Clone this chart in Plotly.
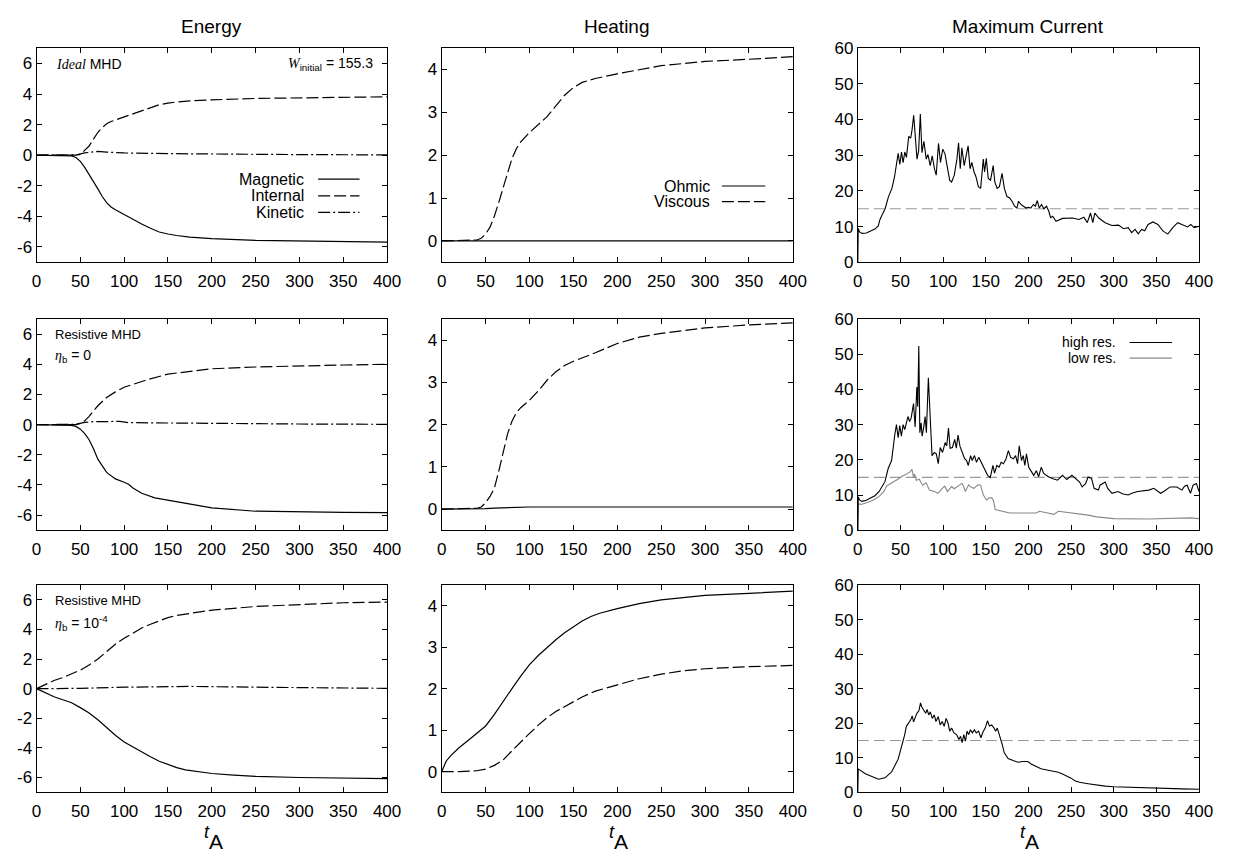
import plotly.graph_objects as go

# ---------------- data ----------------
# Row 1: Ideal MHD
e1_mag_t = [0, 40, 45, 50, 55, 60, 65, 70, 75, 80, 85, 90, 100, 110, 120, 130, 140, 150, 160, 175, 200, 250, 300, 350, 400]
e1_mag_v = [0, -0.05, -0.15, -0.4, -0.8, -1.25, -1.7, -2.2, -2.7, -3.1, -3.38, -3.57, -3.87, -4.2, -4.5, -4.78, -5.02, -5.15, -5.25, -5.35, -5.45, -5.57, -5.62, -5.65, -5.68]
e1_int_t = [0, 45, 50, 55, 60, 65, 70, 75, 80, 85, 90, 100, 110, 120, 130, 140, 150, 160, 175, 200, 250, 300, 350, 400]
e1_int_v = [0, 0.0, 0.05, 0.3, 0.6, 1.05, 1.5, 1.8, 2.05, 2.2, 2.3, 2.52, 2.72, 2.92, 3.12, 3.3, 3.4, 3.48, 3.55, 3.62, 3.71, 3.76, 3.8, 3.82]
e1_kin_t = [0, 45, 55, 65, 70, 80, 100, 150, 200, 250, 300, 350, 400]
e1_kin_v = [0, 0.02, 0.15, 0.24, 0.25, 0.2, 0.15, 0.1, 0.07, 0.05, 0.04, 0.03, 0.02]

h1_ohm_t = [0, 400]
h1_ohm_v = [0, 0]
h1_vis_t = [0, 40, 45, 50, 55, 60, 65, 70, 75, 80, 85, 90, 100, 110, 120, 130, 140, 150, 160, 175, 200, 250, 300, 350, 400]
h1_vis_v = [0, 0.02, 0.06, 0.16, 0.32, 0.58, 0.9, 1.23, 1.6, 1.92, 2.15, 2.31, 2.53, 2.72, 2.9, 3.15, 3.4, 3.58, 3.7, 3.79, 3.9, 4.09, 4.19, 4.24, 4.3]

c1_t = [0, 0.5, 2, 5, 10, 15, 20, 24, 26, 29, 32, 36, 40, 43, 46, 47.3, 49.3, 51.2, 53.1, 55.1, 57, 59.7, 62, 63.6, 65.5, 67.8, 69.4, 71.3,
        73.3, 75.2, 77.5, 80.2, 82.2, 84.9, 87.2, 89.9, 91.9, 94.6, 96.9, 99.6, 102.3, 104.6, 107.7, 110, 113.1, 116.2, 118.1, 120.1,
        122, 124.7, 127, 129.3, 131.6, 133.6, 136.3, 138.6, 141.3, 144, 147.1, 148.6, 150.6, 152.9, 155.6, 158.7, 160.6, 163.3, 166,
        169.1, 171.8, 174.9, 178, 180.7, 183.8, 186.5, 188.4, 191.1, 194.2, 197.3, 200, 202.7, 205.8, 208.1, 210.4, 212.7, 215.4,
        218.1, 221.2, 223.9, 226, 228.5, 232.4, 240, 251.6, 259.3, 265, 269, 272.8, 275.5, 277.8, 282.5, 290, 297.9, 305.6, 311.4,
        317, 321, 325, 328.7, 332.6, 336.4, 340.3, 346, 351.8, 357.6, 363.4, 369.2, 375, 380.7, 386.5, 390.4, 394.2, 400]
c1_v = [0, 9.5, 8.5, 8.1, 8.2, 8.8, 9.3, 10.2, 12, 13.5, 15, 18.4, 20.7, 23.9, 28, 30.5, 27.4, 30.9, 27.9, 30.9, 29.4, 35.3, 34.8, 37.1,
        41.2, 33.9, 28.9, 31.2, 41.5, 30.7, 33.9, 28.9, 30.2, 27.1, 29.8, 26.2, 24.4, 33.3, 28, 31.7, 30.3, 27.1, 23, 22.5, 24.4, 28.9,
        33.5, 26.2, 32.1, 27.1, 29.8, 32.6, 26.2, 28, 25.3, 23.9, 21.2, 20.7, 28.9, 25.3, 29.1, 23.5, 23, 27.1, 22.5, 20.7, 21.2, 24.9,
        20.7, 18.4, 18, 17.1, 15.7, 15.2, 17.1, 16.2, 15.7, 15.2, 15.4, 15.2, 16.2, 15.7, 17.3, 15.2, 16.2, 15, 15.7, 14.3, 12.5, 12.9,
        11.5, 12.3, 12.4, 12, 12.6, 11.1, 13.8, 11.1, 13.8, 12.4, 11.1, 10.3, 10.4, 9.4, 9.7, 8.3, 9.2, 8, 9.2, 8.8, 10.6, 11.3, 10.6,
        8.8, 7.9, 9.7, 11.1, 10.6, 9.9, 10.6, 9.7, 10.1]

# Row 2: Resistive MHD, eta_b = 0
e2_mag_t = [0, 40, 45, 50, 55, 60, 65, 70, 80, 90, 100, 105, 110, 120, 135, 150, 175, 200, 250, 300, 350, 400]
e2_mag_v = [0, -0.05, -0.12, -0.3, -0.6, -1.0, -1.6, -2.29, -3.17, -3.6, -3.82, -3.95, -4.2, -4.55, -4.85, -5.0, -5.3, -5.52, -5.74, -5.8, -5.82, -5.83]
e2_int_t = [0, 45, 50, 55, 60, 65, 70, 80, 90, 100, 125, 150, 175, 200, 250, 300, 350, 400]
e2_int_v = [0, 0.0, 0.08, 0.25, 0.55, 0.9, 1.25, 1.8, 2.17, 2.48, 2.95, 3.35, 3.54, 3.7, 3.82, 3.9, 3.95, 4.0]
e2_kin_t = [0, 45, 55, 65, 80, 95, 105, 150, 200, 250, 300, 350, 400]
e2_kin_v = [0, 0.02, 0.15, 0.2, 0.2, 0.22, 0.13, 0.1, 0.07, 0.05, 0.04, 0.03, 0.02]

h2_ohm_t = [0, 40, 50, 60, 70, 80, 100, 150, 400]
h2_ohm_v = [0, 0.0, 0.01, 0.025, 0.035, 0.045, 0.05, 0.05, 0.05]
h2_vis_t = [0, 40, 45, 50, 55, 60, 65, 70, 75, 80, 85, 90, 100, 110, 120, 130, 140, 150, 175, 200, 225, 250, 300, 350, 400]
h2_vis_v = [0, 0.02, 0.05, 0.15, 0.3, 0.5, 0.9, 1.38, 1.78, 2.08, 2.28, 2.4, 2.58, 2.8, 3.05, 3.25, 3.4, 3.5, 3.7, 3.92, 4.07, 4.16, 4.29, 4.36, 4.41]

c2_hi_t = [0, 0.5, 2, 5, 10, 15, 20, 25, 31.8, 35.7, 39.6, 43.4, 45.3, 47.3, 49.2, 51.1, 53.1, 55, 56.9, 58.8, 60.7, 62.6, 65.3, 67.2,
           69.2, 70.3, 71.5, 72.7, 74.2, 75.4, 77.3, 78.9, 80.4, 82.7, 85, 87, 89.7, 92, 94.3, 96.6, 99.3, 102.4, 104.3, 106.3, 108.2,
           110.9, 113.6, 115.5, 117.5, 119.8, 122.5, 125.2, 127.5, 129.5, 132.2, 134.1, 136.8, 139.1, 141.8, 144.5, 146.8, 149.5, 152.2,
           155.3, 158.4, 160.3, 163, 165.7, 168, 170.7, 173.8, 176.5, 179.2, 182.3, 185, 187.3, 189.2, 191.9, 193.9, 195.8, 197.7, 200.4,
           203.5, 206.2, 209.3, 212, 215.1, 217.8, 220.9, 224, 229, 234, 240, 245, 251, 256, 260, 263, 267, 270, 274, 277, 282, 284, 290,
           293, 298, 305, 311, 317, 322, 328, 335, 341, 347, 355, 360, 366, 374, 380, 383, 386, 390, 393, 397, 400]
c2_hi_v = [0, 9.5, 8.6, 8.2, 8.5, 9.1, 9.8, 11, 13.8, 17.6, 19.8, 27.2, 30, 26.3, 29.7, 26.7, 30, 28.6, 30.5, 32.3, 30.9, 31.9, 36, 29.3,
           40.7, 35.1, 52.3, 27.7, 30.5, 26.7, 29.3, 32.3, 27.7, 43.3, 31.4, 21.2, 22.1, 21.7, 18.9, 23.5, 22.1, 24.9, 24, 29, 23.3, 23.5,
           25.8, 23.3, 27, 23.8, 22.1, 20.3, 19.8, 18.4, 21.2, 19.8, 21.2, 19.3, 20.7, 19.3, 17.9, 16.6, 15.6, 15, 18.4, 16.2, 18.4, 17.9,
           19.3, 18.9, 20.3, 22.6, 20.7, 20.3, 21.2, 18.9, 24, 19.8, 21.2, 18.4, 21.7, 17.9, 16.6, 15.6, 16.9, 15.2, 17.9, 16.2, 15.6, 15.1,
           14.6, 14.2, 15.6, 14.4, 15.6, 14.5, 13.7, 12.3, 13.2, 15.1, 14.7, 11.9, 11.4, 12.8, 13.7, 11.9, 10.5, 11, 10.3, 10, 10.6, 11,
           11.2, 11.4, 11.9, 10.5, 11.2, 12.3, 12.3, 11.4, 12.5, 12.8, 10.5, 12.8, 13.3, 11]
c2_lo_t = [0, 0.5, 5, 10, 15, 20, 25, 30, 34, 38, 43, 47, 51, 57, 61, 63.5, 65.5, 66.5, 68.5, 72, 76, 80, 84, 90, 94, 99, 102, 105, 110,
           113, 117, 122, 124, 126, 130, 133, 136, 141, 144, 147, 151, 154, 157, 159, 161, 166, 172, 178, 193, 209, 213, 223, 230, 235,
           245, 260, 270, 280, 300, 340, 380, 390, 400]
c2_lo_v = [0, 7.5, 7.4, 7.7, 8.2, 8.8, 9.6, 10.8, 12.6, 13.2, 13.8, 14.5, 15.2, 16.1, 16.5, 17.3, 14.9, 16, 14.2, 14.5, 12.8, 13.5, 11.4,
           11, 10.5, 11.9, 12.5, 11, 12.4, 11.8, 12.5, 13.3, 12.5, 11, 12.9, 12.2, 11.9, 12.9, 12.8, 10.1, 8.6, 9.2, 9.2, 8.5, 5.9, 5.6,
           5.2, 4.9, 4.9, 4.9, 5.4, 4.9, 4.5, 5.4, 5.1, 4.7, 4.3, 3.8, 3.3, 3.2, 3.4, 3.5, 3.3]

# Row 3: Resistive MHD, eta_b = 1e-4
e3_mag_t = [0, 10, 20, 30, 40, 50, 60, 70, 80, 90, 100, 110, 120, 130, 140, 150, 160, 170, 180, 200, 225, 250, 300, 350, 400]
e3_mag_v = [0, -0.3, -0.55, -0.75, -0.95, -1.28, -1.65, -2.1, -2.65, -3.15, -3.6, -3.95, -4.3, -4.6, -4.9, -5.12, -5.33, -5.48, -5.58, -5.73, -5.84, -5.92, -6.0, -6.05, -6.08]
e3_int_t = [0, 10, 20, 30, 40, 50, 60, 70, 80, 90, 100, 110, 120, 130, 140, 150, 160, 175, 200, 250, 300, 350, 400]
e3_int_v = [0, 0.3, 0.55, 0.75, 1.0, 1.25, 1.6, 2.0, 2.5, 3.0, 3.4, 3.75, 4.1, 4.35, 4.6, 4.8, 4.95, 5.1, 5.3, 5.55, 5.7, 5.8, 5.85]
e3_kin_t = [0, 50, 100, 175, 250, 300, 400]
e3_kin_v = [0, 0.02, 0.1, 0.15, 0.1, 0.06, 0.02]

h3_ohm_t = [0, 5, 10, 20, 30, 40, 50, 60, 70, 80, 90, 100, 110, 120, 130, 140, 150, 160, 170, 180, 200, 225, 250, 275, 300, 350, 400]
h3_ohm_v = [0, 0.25, 0.38, 0.58, 0.75, 0.92, 1.1, 1.38, 1.7, 2.0, 2.3, 2.58, 2.8, 3.0, 3.18, 3.35, 3.5, 3.63, 3.74, 3.82, 3.93, 4.05, 4.14, 4.2, 4.25, 4.3, 4.35]
h3_vis_t = [0, 20, 40, 50, 60, 70, 80, 90, 100, 110, 120, 130, 140, 150, 160, 175, 200, 225, 250, 275, 300, 350, 400]
h3_vis_v = [0, 0, 0.02, 0.06, 0.15, 0.28, 0.5, 0.72, 0.92, 1.12, 1.3, 1.45, 1.57, 1.68, 1.8, 1.94, 2.09, 2.24, 2.35, 2.43, 2.48, 2.53, 2.56]

c3_t = [0, 0.5, 8.8, 16.5, 24.2, 31.9, 39.6, 47.3, 53, 55, 56.9, 59.6, 61.9, 63.8, 65.4, 67.7, 69.6, 71.6, 73.5, 75, 77.3, 79.6, 81.2,
        83.1, 85, 87.3, 89.6, 91.6, 94.3, 96.6, 98.9, 101.2, 103.5, 105.8, 107.7, 110, 112.7, 115.8, 118.5, 120.4, 122.3, 124.2, 126.2,
        128.1, 130, 132, 134.3, 136.6, 138.9, 141.6, 144.3, 146.6, 149.3, 152, 154.3, 157, 159.7, 161.6, 163.5, 165.4, 167.4, 169.3,
        171.6, 176.2, 182, 187.8, 193.5, 199.3, 203.2, 209, 214.7, 223.2, 230, 235, 240, 245, 250, 255, 260, 270, 280, 290, 300, 320,
        340, 360, 380, 400]
c3_v = [0, 6.8, 5.4, 4.5, 3.8, 4.2, 5.9, 9.6, 14.4, 16.7, 19.1, 20, 20.9, 22.1, 20.4, 21.9, 23, 23.6, 25.9, 24.7, 23.8, 22.9, 24, 22.4,
        23.3, 21.4, 22.4, 20.5, 21.9, 19.5, 20.5, 19.1, 21.4, 20, 17.7, 18.6, 17.2, 16.7, 15.3, 16.2, 14.4, 16.7, 14.8, 17.7, 16.7, 18.1,
        17.2, 18.1, 17.2, 17.7, 15.8, 17.4, 18.6, 20.7, 19.2, 19.5, 18.6, 17.7, 18.6, 17.2, 15.3, 13.9, 11.5, 9.8, 9.2, 8.7, 8.9, 8.9,
        8.2, 7.4, 6.8, 6.4, 6.1, 5.8, 5.3, 4.8, 4.1, 3.3, 2.9, 2.5, 2.1, 1.8, 1.6, 1.4, 1.2, 1.1, 1.0, 0.9]

thresh_t = [0, 400]
thresh_v = [15, 15]

x_ticks = [0, 50, 100, 150, 200, 250, 300, 350, 400]
energy_ticks = [-6, -4, -2, 0, 2, 4, 6]
heating_ticks = [0, 1, 2, 3, 4]
current_ticks = [0, 10, 20, 30, 40, 50, 60]
col_titles = ["Energy", "Heating", "Maximum Current"]

# ---------------- layout geometry (pixels) ----------------
W, H = 1247, 861
cols_px = [(32, 388), (443.5, 800), (866, 1212.5)]
rows_px = [(40, 259), (317, 533), (589, 801)]

def px(x):
    return x / W

def py(y):
    return 1 - y / H

FONT = "Liberation Sans, Arial, sans-serif"
BLACK = "#000000"
GRAY = "#999999"
DASH = "12px,4px"
DASHDOT = "12px,3px,2px,3px"

fig = go.Figure()

def add(panel, t, v, color=BLACK, dash="solid", width=1.2):
    ax = "" if panel == 1 else str(panel)
    fig.add_trace(go.Scatter(x=t, y=v, mode="lines", xaxis="x" + ax, yaxis="y" + ax,
                             line=dict(color=color, dash=dash, width=width),
                             showlegend=False, hoverinfo="skip"))

# row 1
add(1, e1_mag_t, e1_mag_v)
add(1, e1_int_t, e1_int_v, dash=DASH)
add(1, e1_kin_t, e1_kin_v, dash=DASHDOT)
add(2, h1_ohm_t, h1_ohm_v)
add(2, h1_vis_t, h1_vis_v, dash=DASH)
add(3, thresh_t, thresh_v, color=GRAY, dash="11px,5px", width=1.2)
add(3, c1_t, c1_v, width=1.1)
# row 2
add(4, e2_mag_t, e2_mag_v)
add(4, e2_int_t, e2_int_v, dash=DASH)
add(4, e2_kin_t, e2_kin_v, dash=DASHDOT)
add(5, h2_ohm_t, h2_ohm_v)
add(5, h2_vis_t, h2_vis_v, dash=DASH)
add(6, thresh_t, thresh_v, color=GRAY, dash="11px,5px", width=1.2)
add(6, c2_lo_t, c2_lo_v, color="#888888", width=1.1)
add(6, c2_hi_t, c2_hi_v, width=1.1)
# row 3
add(7, e3_mag_t, e3_mag_v)
add(7, e3_int_t, e3_int_v, dash=DASH)
add(7, e3_kin_t, e3_kin_v, dash=DASHDOT)
add(8, h3_ohm_t, h3_ohm_v)
add(8, h3_vis_t, h3_vis_v, dash=DASH)
add(9, thresh_t, thresh_v, color=GRAY, dash="11px,5px", width=1.2)
add(9, c3_t, c3_v, width=1.1)

layout = dict(width=W, height=H, margin=dict(l=0, r=0, t=0, b=0),
              paper_bgcolor="white", plot_bgcolor="white",
              font=dict(family=FONT, color=BLACK, size=16), showlegend=False)

yranges = [[-7, 7], [-0.5, 4.5], [0, 60]]
yticks = [energy_ticks, heating_ticks, current_ticks]
common = dict(showline=True, linecolor=BLACK, linewidth=1, mirror="allticks", ticks="inside",
              ticklen=5, tickcolor=BLACK, showgrid=False, zeroline=False,
              tickfont=dict(family=FONT, size=17, color=BLACK))
for r in range(3):
    for c in range(3):
        p = r * 3 + c + 1
        ax = "" if p == 1 else str(p)
        x0, x1 = cols_px[c]
        y0, y1 = rows_px[r]
        layout["xaxis" + ax] = dict(domain=[px(x0), px(x1)], range=[0, 400], anchor="y" + ax,
                                    tickvals=x_ticks, ticktext=[str(v) for v in x_ticks],
                                    ticklabelstandoff=3, **common)
        layout["yaxis" + ax] = dict(domain=[py(y1), py(y0)], range=yranges[c], anchor="x" + ax,
                                    tickvals=yticks[c], ticktext=[str(v) for v in yticks[c]], **common)
fig.update_layout(**layout)

ann = []
shapes = []

def text(x, y, s, size=16, xanchor="center", yanchor="middle"):
    ann.append(dict(x=px(x), y=py(y), xref="paper", yref="paper", text=s, showarrow=False,
                    xanchor=xanchor, yanchor=yanchor, font=dict(family=FONT, size=size, color=BLACK)))

# column titles and x-axis labels
for c, title in enumerate(col_titles):
    cx = (cols_px[c][0] + cols_px[c][1]) / 2
    text(cx, 18, title, size=19)
    text(cx - 5, 842, "<i>t</i>", size=18)
    text(cx + 4, 851, "A", size=21)

SERIF = "font-family:Liberation Serif"
text(50, 56, '<span style="%s"><i>Ideal</i></span> MHD' % SERIF, size=14, xanchor="left")
text(376, 56, '<span style="%s"><i>W</i></span><sub>initial</sub> = 155.3' % SERIF, size=14, xanchor="right")
text(49, 333, "Resistive MHD", size=13, xanchor="left")
text(49, 355, '<span style="%s"><i>η</i></span><sub>b</sub> = 0' % SERIF, size=14, xanchor="left")
text(49, 605, "Resistive MHD", size=13, xanchor="left")
text(49, 628, '<span style="%s"><i>η</i></span><sub>b</sub> = 10<sup>-4</sup>' % SERIF, size=14, xanchor="left")

def legend_entry(xr, x0, x1, y, label, color=BLACK, dash="solid", size=16):
    text(xr, y, label, size=size, xanchor="right")
    shapes.append(dict(type="line", xref="paper", yref="paper", x0=px(x0), x1=px(x1), y0=py(y), y1=py(y),
                       line=dict(color=color, width=1.2, dash=dash)))

legend_entry(306, 318, 360, 174, "Magnetic")
legend_entry(306, 318, 360, 191, "Internal", dash=DASH)
legend_entry(306, 318, 360, 208, "Kinetic", dash=DASHDOT)
legend_entry(718, 728, 772, 181, "Ohmic")
legend_entry(718, 728, 772, 197, "Viscous", dash=DASH)
legend_entry(1130, 1142, 1185, 341, "high res.", size=14)
legend_entry(1130, 1142, 1185, 357, "low res.", color="#888888", size=14)

fig.update_layout(annotations=ann, shapes=shapes)
fig.write_html("out.html", post_script="document.body.style.margin='0px';document.body.style.overflow='hidden';")
